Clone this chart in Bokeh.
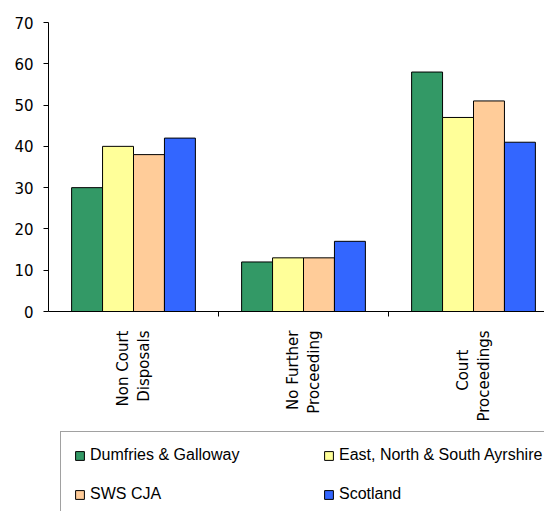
from bokeh.plotting import figure
from bokeh.layouts import column
from bokeh.models import Range1d, FixedTicker, Legend, LegendItem, ColumnDataSource
from bokeh.embed import file_html
from bokeh.resources import INLINE
import math

categories = ["Non Court\nDisposals", "No Further\nProceeding",
              "Court\u00a0\u00a0\u00a0\u00a0\nProceedings"]
series = ["Dumfries & Galloway", "East, North & South Ayrshire", "SWS CJA", "Scotland"]
dumfries = [30, 12, 58]
ayrshire = [40, 13, 47]
sws = [38, 13, 51]
scotland = [42, 17, 41]
y_ticks = [0, 10, 20, 30, 40, 50, 60, 70]

colors = ["#339966", "#FFFF99", "#FFCC99", "#3366FF"]
values = [dumfries, ayrshire, sws, scotland]

W = 544
H1 = 427
H2 = 84
left, top = 48, 22
frame_h = 289
px_per_cat = 170
frame_w = W - left
x_end = frame_w / px_per_cat

p = figure(width=W, height=H1, output_backend="svg", toolbar_location=None,
           x_range=Range1d(0, x_end), y_range=Range1d(0, 70),
           min_border_left=left, min_border_right=0, min_border_top=top,
           min_border_bottom=H1 - top - frame_h)
p.outline_line_color = None
p.xgrid.visible = False
p.ygrid.visible = False

bw = 0.182
centers = [i + 0.5 for i in range(len(categories))]
for k, (vals, col) in enumerate(zip(values, colors)):
    xs = [c + (k - 1.5) * bw for c in centers]
    src = ColumnDataSource(dict(x=xs, top=vals))
    p.vbar(x="x", top="top", width=bw, bottom=0, source=src,
           fill_color=col, line_color="black", line_width=1)

# y axis
p.yaxis.ticker = FixedTicker(ticks=y_ticks)
p.yaxis.major_tick_out = 5
p.yaxis.major_tick_in = 0
p.yaxis.minor_tick_out = 0
p.yaxis.minor_tick_in = 0
p.yaxis.major_label_standoff = 10
p.yaxis.major_label_text_font = "DejaVu Sans"
p.yaxis.major_label_text_font_size = "15px"
p.yaxis.major_label_text_color = "black"
p.yaxis.axis_line_color = "black"
p.yaxis.major_tick_line_color = "black"

# x axis
p.xaxis.ticker = FixedTicker(ticks=centers, minor_ticks=[1, 2])
p.xaxis.major_label_overrides = {c: lab for c, lab in zip(centers, categories)}
p.xaxis.major_tick_out = 0
p.xaxis.major_tick_in = 0
p.xaxis.minor_tick_out = 5
p.xaxis.minor_tick_in = 0
p.xaxis.major_label_orientation = math.pi / 2
p.xaxis.major_label_standoff = 14
p.xaxis.major_label_text_font = "DejaVu Sans"
p.xaxis.major_label_text_font_size = "15px"
p.xaxis.major_label_text_color = "black"
p.xaxis.axis_line_color = "black"
p.xaxis.minor_tick_line_color = "black"

# legend figure (frame aligned with the chart's frame)
p2 = figure(width=W, height=H2, output_backend="svg", toolbar_location=None,
            x_range=Range1d(0, 1), y_range=Range1d(0, 1),
            x_axis_location=None, y_axis_location=None,
            min_border_left=left, min_border_right=0, min_border_top=0,
            min_border_bottom=0)
p2.outline_line_color = None
p2.xgrid.visible = False
p2.ygrid.visible = False
rs = []
nan = float("nan")
for col in colors:
    # legend-only renderers with no drawable data
    rs.append(p2.vbar(x=[nan], top=[nan], bottom=nan, width=0.1, fill_color=col,
                      line_color="black", line_width=1))

order = [0, 2, 1, 3]
items = [LegendItem(label=series[i], renderers=[rs[i]]) for i in order]
legend = Legend(items=items, location=(12, -7), ncols=2, margin=0,
                label_text_font="Liberation Sans", label_text_font_size="16px",
                label_text_color="black",
                glyph_width=11, glyph_height=11, label_standoff=5,
                label_width=214, label_height=20, spacing=19, padding=13,
                border_line_color="#444444", border_line_width=1,
                background_fill_color="white", background_fill_alpha=1.0)
p2.add_layout(legend, "center")

layout = column(p, p2, spacing=0)
open("out.html", "w").write(file_html(layout, INLINE))
